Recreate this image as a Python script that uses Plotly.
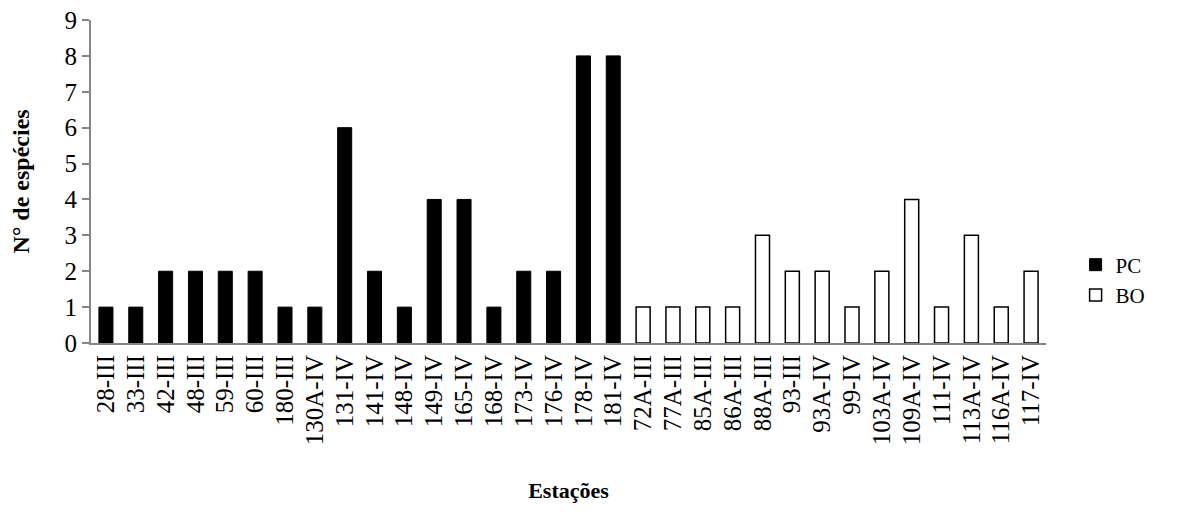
import plotly.graph_objects as go

# Estações (PC) e (BO)
pc_estacoes = ["28-III", "33-III", "42-III", "48-III", "59-III", "60-III", "180-III",
               "130A-IV", "131-IV", "141-IV", "148-IV", "149-IV", "165-IV", "168-IV",
               "173-IV", "176-IV", "178-IV", "181-IV"]
pc_especies = [1, 1, 2, 2, 2, 2, 1, 1, 6, 2, 1, 4, 4, 1, 2, 2, 8, 8]

bo_estacoes = ["72A-III", "77A-III", "85A-III", "86A-III", "88A-III", "93-III", "93A-IV",
               "99-IV", "103A-IV", "109A-IV", "111-IV", "113A-IV", "116A-IV", "117-IV"]
bo_especies = [1, 1, 1, 1, 3, 2, 2, 1, 2, 4, 1, 3, 1, 2]

todas = pc_estacoes + bo_estacoes
FONTE = "Liberation Serif"

fig = go.Figure()
fig.add_trace(go.Bar(x=pc_estacoes, y=pc_especies, name="PC",
                     marker=dict(color="black", line=dict(color="black", width=1))))
fig.add_trace(go.Bar(x=bo_estacoes, y=bo_especies, name="BO",
                     marker=dict(color="white", line=dict(color="black", width=1.5))))

# a página tem ~8px de margem no body, por isso a figura é um pouco menor
fig.update_layout(
    width=1161, height=508,
    barmode="relative", bargap=0.53,
    plot_bgcolor="white", paper_bgcolor="white",
    font=dict(family=FONTE, color="black", size=22),
    margin=dict(l=83, r=123, t=12, b=173),
    legend=dict(x=1.031, y=0.195, xanchor="left", yanchor="middle",
                font=dict(family=FONTE, size=21, color="black"),
                itemwidth=30, tracegroupgap=0),
    showlegend=True,
)
fig.update_xaxes(
    categoryorder="array", categoryarray=todas,
    tickmode="array", tickvals=todas, ticktext=todas,
    tickangle=-90, tickfont=dict(family=FONTE, size=25, color="black"),
    showline=True, linecolor="#868686", linewidth=2, ticks="",
    title=dict(text="<b>Estações</b>", font=dict(family=FONTE, size=22, color="black"),
               standoff=38),
    automargin=False,
)
fig.update_yaxes(
    range=[0, 9], dtick=1, showgrid=False, zeroline=False,
    showline=True, linecolor="#868686", linewidth=2,
    ticks="outside", ticklen=7, tickcolor="#868686", tickwidth=2,
    tickfont=dict(family=FONTE, size=25, color="black"),
    ticklabeloverflow="allow",
    title=dict(text="<b>N° de espécies</b>", font=dict(family=FONTE, size=24, color="black"),
               standoff=28),
    automargin=False,
)

fig.write_html("out.html")
